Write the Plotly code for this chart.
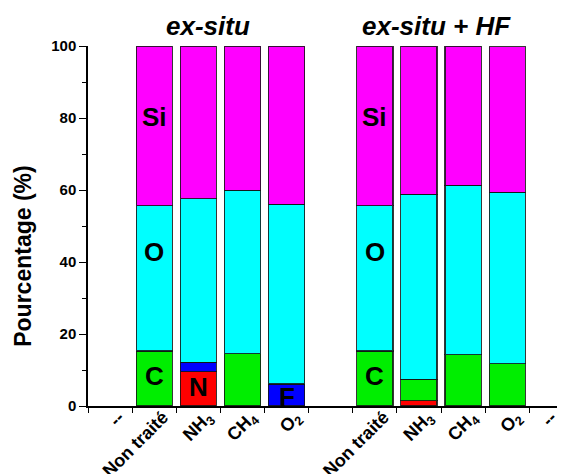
import plotly.graph_objects as go

# ---- data ----
slot_labels = ["--", "Non traité", "NH<sub>3</sub>", "CH<sub>4</sub>", "O<sub>2</sub>", "",
               "Non traité", "NH<sub>3</sub>", "CH<sub>4</sub>", "O<sub>2</sub>", "--"]
bar_slots = [1, 2, 3, 4, 6, 7, 8, 9]
N_vals  = [0.0, 9.5, 0.0, 0.0, 0.0, 1.5, 0.0, 0.0]
F_vals  = [0.0, 2.6, 0.0, 6.1, 0.0, 0.0, 0.0, 0.0]
C_vals  = [15.3, 0.0, 14.5, 0.0, 15.3, 5.9, 14.2, 11.7]
O_vals  = [40.3, 45.5, 45.4, 49.9, 40.3, 51.4, 47.1, 47.7]
Si_vals = [44.4, 42.4, 40.1, 44.0, 44.4, 41.2, 38.7, 40.4]
group_titles = ["ex-situ", "ex-situ + HF"]
y_ticks = [0, 20, 40, 60, 80, 100]

# element labels drawn in bars: (text, slot, y)
element_labels = [("Si", 1, 80.3), ("O", 1, 42.8), ("C", 1, 8.3), ("N", 2, 5.3), ("F", 4, 2.6),
                  ("Si", 6, 80.3), ("O", 6, 42.8), ("C", 6, 8.3)]

FONT = "Arial, Liberation Sans, sans-serif"
series = [("N", N_vals, "#ff0000"), ("F", F_vals, "#0000ff"), ("C", C_vals, "#00ee00"),
          ("O", O_vals, "#00ffff"), ("Si", Si_vals, "#ff00ff")]

fig = go.Figure()
for name, vals, col in series:
    fig.add_trace(go.Bar(
        x=bar_slots, y=vals, name=name, width=0.82,
        marker=dict(color=col, line=dict(color="rgba(20,20,20,0.85)", width=1.2)),
        showlegend=False,
    ))

for txt, xs, ys in element_labels:
    fig.add_annotation(x=xs, y=ys, text=txt, showarrow=False, xref="x", yref="y",
                       font=dict(family=FONT, size=26, color="black", weight="bold"))

title_x = [2.23, 7.4]
for t, tx in zip(group_titles, title_x):
    fig.add_annotation(x=tx, y=1.008, xref="x", yref="paper", text="<i>%s</i>" % t,
                       showarrow=False, yanchor="bottom",
                       font=dict(family=FONT, size=26, color="black", weight="bold"))

fig.add_annotation(x=-0.138, y=0.415, xref="paper", yref="paper", text="Pourcentage (%)",
                   textangle=-90, showarrow=False, xanchor="center", yanchor="middle",
                   font=dict(family=FONT, size=23, color="black", weight="bold"))

label_pos = [k + 0.2 for k in range(10)] + [10.0]

# the page adds an 8px body margin, so the figure is sized to fit the 565x474 window
fig.update_layout(
    width=557, height=466,
    margin=dict(l=80, r=0, t=38, b=68),
    plot_bgcolor="white", paper_bgcolor="white",
    barmode="stack",
    xaxis=dict(
        range=[-0.5, 10.31], tickmode="array", tickvals=label_pos,
        ticktext=slot_labels, ticklabelstandoff=-8,
        tickangle=-45, ticks="", showgrid=False, zeroline=False, automargin=False,
        showline=True, linecolor="black", linewidth=1.5,
        tickfont=dict(family=FONT, size=18, color="black", weight="bold"),
        minor=dict(tickmode="array", tickvals=[k - 0.5 for k in range(11)], ticks="outside",
                   ticklen=5, tickwidth=1.3, tickcolor="black", showgrid=False),
    ),
    yaxis=dict(
        range=[0, 100], tickvals=y_ticks, ticks="outside", ticklen=7, tickwidth=1.3,
        tickcolor="black", showgrid=False, zeroline=False, automargin=False,
        showline=True, linecolor="black", linewidth=1.5,
        tickfont=dict(family=FONT, size=15, color="black", weight="bold"),
        minor=dict(dtick=10, ticks="outside", ticklen=4, tickwidth=1.2, tickcolor="black", showgrid=False),
    ),
)

fig.write_html("out.html")
